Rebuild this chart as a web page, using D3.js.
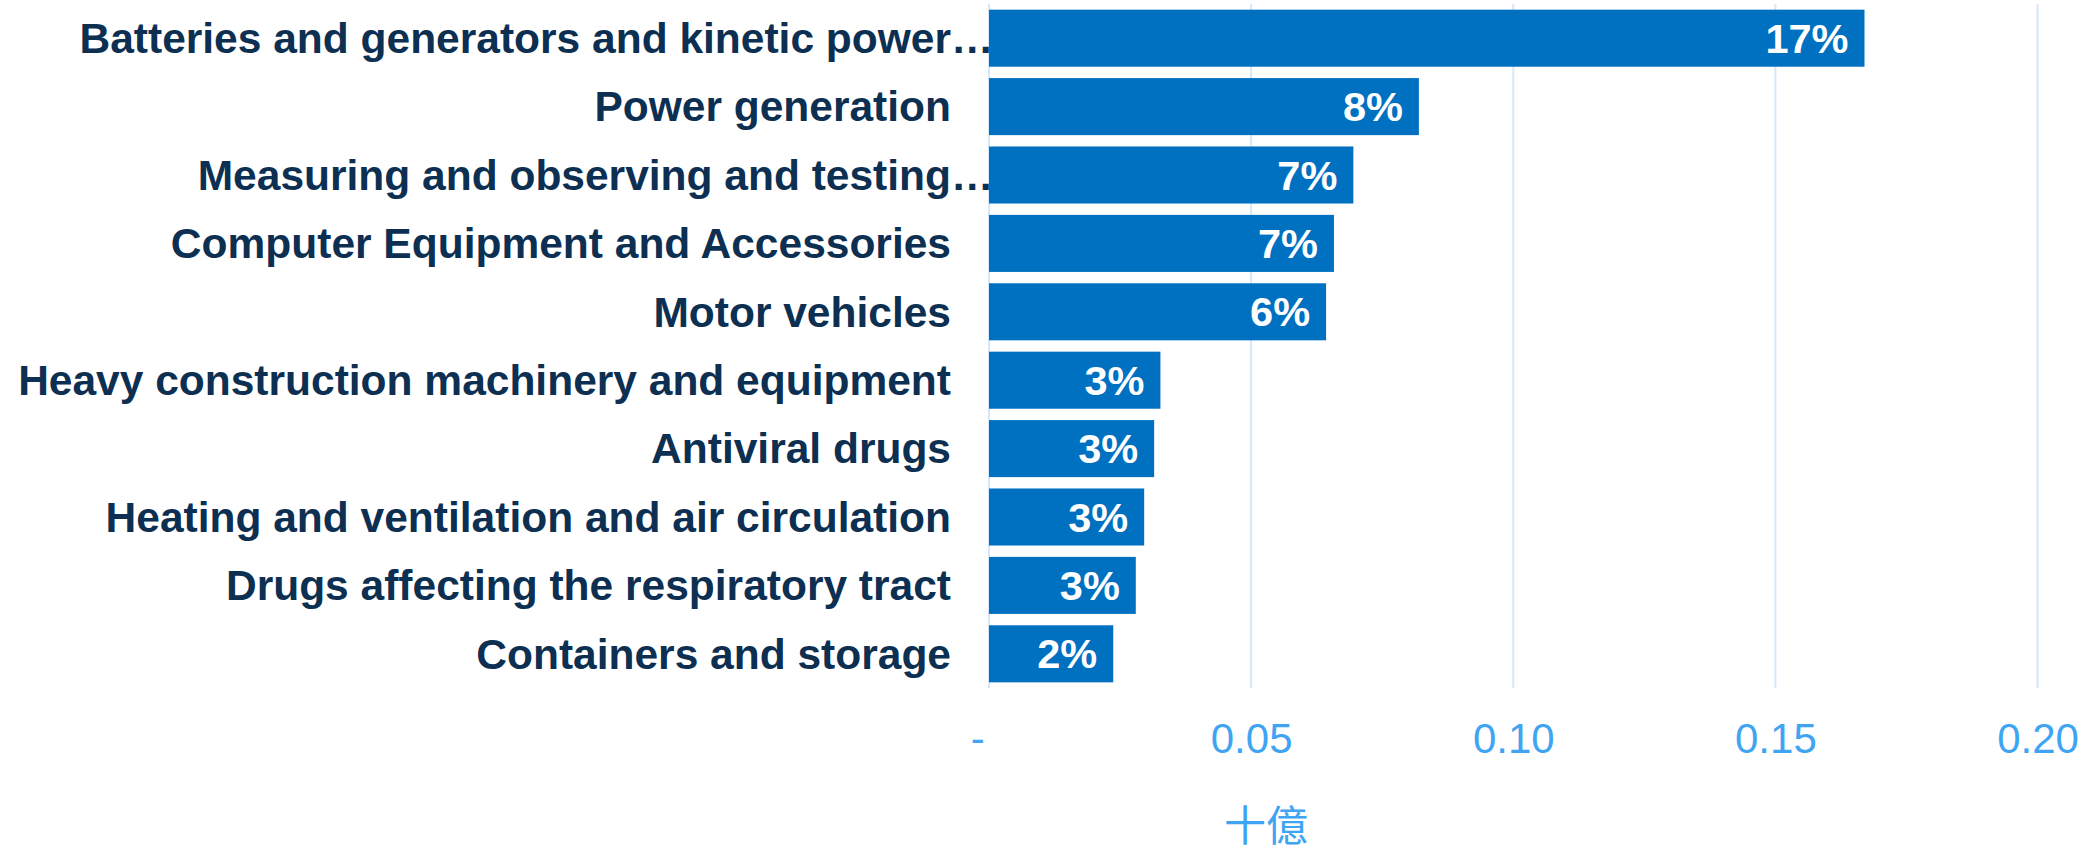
<!DOCTYPE html>
<html><head><meta charset="utf-8">
<script src="https://cdn.jsdelivr.net/npm/d3@7"></script>
<style>body{margin:0;background:#fff}svg{display:block}</style>
</head><body>
<svg id="c" width="2085" height="845"></svg>
<script>
const categories = [
  "Batteries and generators and kinetic power…",
  "Power generation",
  "Measuring and observing and testing…",
  "Computer Equipment and Accessories",
  "Motor vehicles",
  "Heavy construction machinery and equipment",
  "Antiviral drugs",
  "Heating and ventilation and air circulation",
  "Drugs affecting the respiratory tract",
  "Containers and storage"
];
const values = [0.167, 0.082, 0.0695, 0.0658, 0.0643, 0.0327, 0.0315, 0.0296, 0.0280, 0.0237];
const shareLabels = ["17%", "8%", "7%", "7%", "6%", "3%", "3%", "3%", "3%", "2%"];
const tickValues = [0, 0.05, 0.10, 0.15, 0.20];
const tickLabels = ["-\u00a0\u00a0", "0.05", "0.10", "0.15", "0.20"];
const axisTitle = "十億";

const svg = d3.select("#c");
const font = "'Liberation Sans', Arial, sans-serif";
const x = d3.scaleLinear().domain([0, 0.2]).range([989, 2037.5]);
const y = d3.scaleBand().domain(categories).range([4, 688]).paddingInner(0.166).paddingOuter(0.083);

// gridlines
svg.append("g").selectAll("line").data(tickValues).join("line")
  .attr("x1", d => x(d)).attr("x2", d => x(d))
  .attr("y1", 4).attr("y2", 688)
  .attr("stroke", "#d5e8fb").attr("stroke-width", 2);

// bars
svg.append("g").selectAll("rect").data(values).join("rect")
  .attr("x", x(0)).attr("y", (d, i) => y(categories[i]))
  .attr("width", d => x(d) - x(0)).attr("height", y.bandwidth())
  .attr("fill", "#0070c0");

// value labels
svg.append("g").selectAll("text").data(values).join("text")
  .attr("x", d => x(d) - 16).attr("y", (d, i) => y(categories[i]) + y.bandwidth() / 2)
  .attr("dy", "0.35em").attr("text-anchor", "end")
  .attr("font-family", font).attr("font-weight", "bold").attr("font-size", 41.5)
  .attr("fill", "#fff").text((d, i) => shareLabels[i]);

// category labels
const labelX = 951;
const cg = svg.append("g");
categories.forEach(c => {
  const ell = c.endsWith("…");
  const base = ell ? c.slice(0, -1) : c;
  const cy = y(c) + y.bandwidth() / 2;
  cg.append("text").attr("x", labelX).attr("y", cy).attr("dy", "0.35em")
    .attr("text-anchor", "end").attr("font-family", font).attr("font-weight", "bold")
    .attr("font-size", 42.5).attr("fill", "#0c2f52").text(base);
  if (ell) {
    cg.append("text").attr("x", labelX).attr("y", cy).attr("dy", "0.35em")
      .attr("text-anchor", "start").attr("font-family", font).attr("font-weight", "bold")
      .attr("font-size", 42.5).attr("fill", "#0c2f52").text("…");
  }
});

// x axis
const axis = d3.axisBottom(x).tickValues(tickValues).tickSize(0).tickPadding(0)
  .tickFormat((d, i) => tickLabels[i]);
const ag = svg.append("g").attr("transform", "translate(0,738)").call(axis);
ag.select(".domain").remove();
ag.selectAll("text").attr("font-family", font).attr("font-size", 42)
  .attr("fill", "#3fa5f3").attr("dy", "0.35em").attr("y", 0);

svg.append("text").attr("x", 1266).attr("y", 826).attr("dy", "0.35em")
  .attr("text-anchor", "middle").attr("font-family", "'Noto Sans CJK TC', sans-serif")
  .attr("font-size", 42).attr("fill", "#3fa5f3").text(axisTitle);
</script>
</body></html>
